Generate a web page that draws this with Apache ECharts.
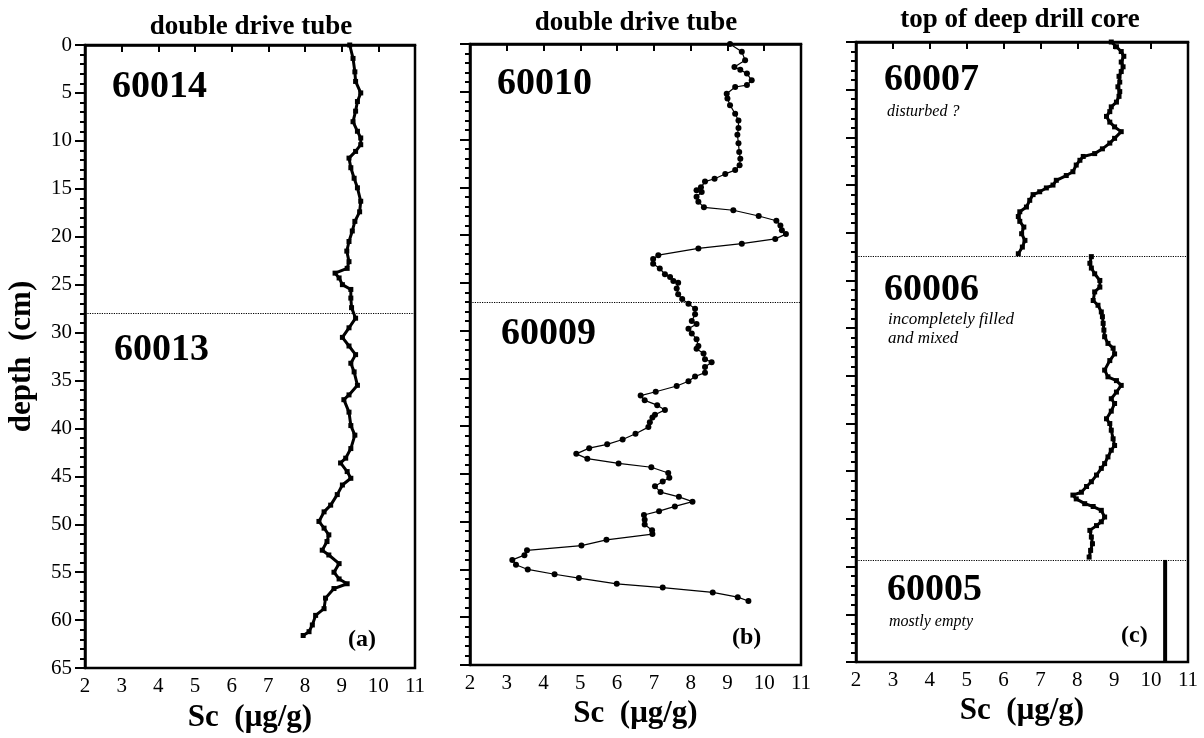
<!DOCTYPE html>
<html style="height: 100%">
<head>
<meta charset="utf-8">
<script src="https://cdn.jsdelivr.net/npm/echarts@6/dist/echarts.min.js"></script>
</head>
<body style="height: 100%; margin: 0; background: #fff">
<div id="container" style="width: 1204px; height: 738px"></div>
<script type="text/javascript">
// panel (a): 60014 / 60013 double drive tube
const depthA = [0, 1.4, 2.8, 3.8, 5, 5.9, 6.9, 8, 9, 9.7, 10.4, 11.1, 11.8, 12.8, 13.9, 14.9, 16.3, 17.4, 18.4, 19.4,
    20.5, 21.5, 22.6, 23.3, 23.8, 24.3, 25, 25.5, 26.4, 27.4, 28.5, 29.5, 30.5, 31.4, 32.3, 33.2, 34.1, 35.5, 36.5, 37,
    38.3, 39.7, 40.7, 42.1, 43.1, 43.6, 44.5, 45.2, 45.9, 46.9, 48, 48.7, 49.7, 50.4, 51.1, 51.8, 52.7, 53.2, 54.1, 55,
    55.7, 56.2, 56.7, 57.7, 58.8, 59.5, 60.5, 61.2, 61.6];
const scA = [9.22, 9.31, 9.36, 9.38, 9.52, 9.43, 9.38, 9.31, 9.43, 9.52, 9.52, 9.38, 9.2, 9.25, 9.34, 9.43, 9.52, 9.49, 9.36, 9.29,
    9.2, 9.14, 9.2, 9.15, 8.82, 8.93, 9.02, 9.25, 9.25, 9.27, 9.38, 9.2, 9.02, 9.2, 9.38, 9.25, 9.34, 9.43, 9.2, 9.06,
    9.2, 9.25, 9.36, 9.25, 9.11, 8.97, 9.15, 9.25, 9.02, 8.88, 8.7, 8.52, 8.38, 8.52, 8.65, 8.6, 8.47, 8.65, 8.93, 8.79,
    8.93, 9.15, 8.79, 8.56, 8.52, 8.29, 8.2, 8.11, 7.95];

// panel (b): 60010 / 60009 double drive tube
const depthB = [0, 0.8, 1.7, 2.4, 2.7, 3.1, 3.8, 4.3, 4.5, 5.2, 5.7, 6.4, 7.3, 8, 8.8, 9.5, 10.4, 11.3, 12, 12.7,
    13.2, 13.6, 14.1, 14.4, 15, 15.3, 15.5, 16, 16.5, 17.1, 17.4, 18, 18.5, 19, 19.5, 19.9, 20.4, 20.9, 21.4, 22.1,
    22.5, 23, 23.5, 24.1, 24.4, 24.8, 25, 25.6, 26.2, 26.7, 27.2, 27.7, 28.3, 29, 29.3, 29.8, 30.3, 30.9, 31.6, 31.9,
    32.4, 33, 33.3, 33.8, 34.4, 34.8, 35.3, 35.8, 36.4, 36.8, 37.3, 37.8, 38.3, 38.8, 39.1, 39.6, 40.1, 40.8, 41.4, 41.9,
    42.3, 42.9, 43.4, 43.9, 44.3, 44.9, 45.4, 45.8, 46.3, 46.9, 47.4, 47.9, 48.4, 48.9, 49.3, 49.8, 50.3, 50.9, 51.3, 51.9,
    52.5, 53, 53.5, 54, 54.5, 55, 55.5, 55.9, 56.5, 56.9, 57.4, 57.9, 58.3];
const scB = [9.07, 9.39, 9.48, 9.19, 9.35, 9.53, 9.66, 9.53, 9.21, 8.98, 9.0, 9.07, 9.21, 9.3, 9.3, 9.27, 9.3, 9.32, 9.35, 9.33,
    9.21, 8.94, 8.65, 8.39, 8.28, 8.16, 8.3, 8.16, 8.21, 8.36, 9.16, 9.85, 10.33, 10.44, 10.48, 10.59, 10.3, 9.39, 8.21, 7.12,
    6.98, 6.98, 7.16, 7.3, 7.44, 7.53, 7.66, 7.62, 7.66, 7.77, 7.94, 8.12, 8.12, 8.03, 8.16, 7.94, 8.03, 8.16, 8.21, 8.16,
    8.35, 8.39, 8.57, 8.39, 8.39, 8.12, 7.94, 7.62, 7.05, 6.64, 6.75, 7.09, 7.3, 7.03, 6.96, 6.89, 6.85, 6.5, 6.15, 5.73,
    5.24, 4.89, 5.19, 6.04, 6.93, 7.39, 7.42, 7.24, 7.03, 7.18, 7.68, 8.05, 7.57, 7.14, 6.73, 6.75, 6.75, 6.95, 6.96, 5.71,
    5.03, 3.55, 3.48, 3.15, 3.25, 3.57, 4.3, 4.96, 5.99, 7.24, 8.6, 9.28, 9.57];

// panel (c): top of deep drill core, 60007 then 60006, 60005 mostly empty
const depthC7 = [0, 0.5, 1, 1.5, 2.1, 2.6, 3.1, 3.6, 4.2, 4.7, 5.2, 5.7, 6.3, 6.8, 7.3, 7.8, 8.4, 8.9, 9.4, 10.1,
    10.6, 11.2, 11.7, 12, 12.4, 12.9, 13.6, 14, 14.5, 15, 15.3, 15.7, 16, 16.6, 17.3, 17.8, 18.3, 18.8, 19.4, 20.1,
    20.8, 21.5, 22.2];
const scC7 = [8.92, 9.06, 9.19, 9.26, 9.19, 9.24, 9.19, 9.13, 9.15, 9.1, 9.15, 9.13, 9.06, 8.92, 8.88, 8.79, 8.88, 9.01, 9.19, 9.01,
    8.88, 8.68, 8.47, 8.16, 8.07, 7.97, 7.88, 7.7, 7.43, 7.34, 7.16, 6.98, 6.8, 6.71, 6.62, 6.44, 6.4, 6.44, 6.55, 6.49,
    6.58, 6.51, 6.4];
const depthC6 = [22.5, 23.2, 23.7, 24.3, 25, 25.7, 26.2, 27.1, 27.6, 28.3, 28.8, 29.5, 30.2, 30.9, 31.6, 32.1, 32.7, 33.4, 34.4, 35.1,
    35.5, 36, 36.7, 37.4, 37.9, 38.7, 39.5, 40, 40.7, 41.6, 42.3, 42.8, 43.5, 44.2, 44.7, 45.4, 46.1, 46.6, 47.2, 47.5,
    47.9, 48.4, 48.7, 49.1, 49.8, 50.3, 50.7, 51.2, 51.9, 52.6, 53.3, 54];
const scC6 = [8.38, 8.34, 8.38, 8.47, 8.61, 8.61, 8.47, 8.43, 8.56, 8.65, 8.68, 8.7, 8.72, 8.74, 8.83, 8.97, 9.01, 8.88, 8.74, 8.83,
    9.06, 9.19, 9.06, 8.92, 9.01, 8.92, 8.79, 8.88, 8.92, 8.97, 9.01, 8.92, 8.83, 8.74, 8.65, 8.52, 8.38, 8.25, 8.11, 7.88,
    7.97, 8.2, 8.43, 8.65, 8.74, 8.65, 8.52, 8.34, 8.38, 8.41, 8.36, 8.32];
const depthC5 = [54.3, 65];
const scC5 = [10.38, 10.38];

// section boundaries (cm)
const breakA = 28;
const breakB = 27;
const breakC = [22.5, 54.3];

const xTicks = [2, 11];
const serif = 'Liberation Serif';

function pairs(sc, depth) {
    const out = [];
    for (let i = 0; i < sc.length; i++) {
        out.push([sc[i], depth[i]]);
    }
    return out;
}

function dotted(values) {
    return {
        silent: true,
        symbol: ['none', 'none'],
        label: {show: false},
        lineStyle: {type: 'dotted', color: '#000', width: 1.2},
        data: values.map(function (v) { return {yAxis: v}; })
    };
}

const grids = [
    {left: 85, top: 45, width: 330, height: 625},
    {left: 470, top: 44, width: 331, height: 621},
    {left: 856, top: 42, width: 332, height: 620}
];

const xAxes = [];
const yAxes = [];
for (let i = 0; i < 3; i++) {
    xAxes.push({
        gridIndex: i, type: 'value', min: xTicks[0], max: xTicks[1], interval: 1,
        name: 'Sc  (μg/g)', nameLocation: 'middle', nameGap: 33,
        nameTextStyle: {fontFamily: serif, fontWeight: 'bold', fontSize: 31, color: '#000'},
        axisLine: {lineStyle: {color: '#000', width: 2.5}},
        axisTick: {length: 7, lineStyle: {color: '#000', width: 2}},
        axisLabel: {fontFamily: serif, fontSize: 21, color: '#000', margin: 8},
        splitLine: {show: false}
    });
    yAxes.push({
        gridIndex: i, type: 'value', inverse: true, min: 0, max: 65, interval: 5,
        name: i === 0 ? 'depth  (cm)' : '', nameLocation: 'middle', nameGap: 48,
        nameTextStyle: {fontFamily: serif, fontWeight: 'bold', fontSize: 31, color: '#000'},
        axisLine: {lineStyle: {color: '#000', width: 2.5}},
        axisTick: {length: 10, lineStyle: {color: '#000', width: 2}},
        minorTick: {show: true, splitNumber: 5, length: 5, lineStyle: {color: '#000', width: 2}},
        axisLabel: {show: i === 0, fontFamily: serif, fontSize: 21, color: '#000', margin: 13},
        splitLine: {show: false}
    });
}

const boldLine = {color: '#000', width: 3};

const dom = document.getElementById('container');
const myChart = echarts.init(dom);

const option = {
    animation: false,
    backgroundColor: '#fff',
    title: [
        {text: 'double drive tube', left: 246, top: 9, textAlign: 'center',
            textStyle: {fontFamily: serif, fontWeight: 'bold', fontSize: 27, color: '#000'}},
        {text: 'double drive tube', left: 631, top: 5, textAlign: 'center',
            textStyle: {fontFamily: serif, fontWeight: 'bold', fontSize: 27, color: '#000'}},
        {text: 'top of deep drill core', left: 1015, top: 2, textAlign: 'center',
            textStyle: {fontFamily: serif, fontWeight: 'bold', fontSize: 27, color: '#000'}}
    ],
    grid: grids.map(function (g) {
        return Object.assign({show: true, borderColor: '#000', borderWidth: 2.5, backgroundColor: 'transparent'}, g);
    }),
    xAxis: xAxes,
    yAxis: yAxes,
    graphic: [
        {type: 'text', left: 112, top: 68, style: {text: '60014', font: 'bold 38px "Liberation Serif"', fill: '#000'}},
        {type: 'text', left: 114, top: 331, style: {text: '60013', font: 'bold 38px "Liberation Serif"', fill: '#000'}},
        {type: 'text', left: 348, top: 628, style: {text: '(a)', font: 'bold 24px "Liberation Serif"', fill: '#000'}},
        {type: 'text', left: 497, top: 65, style: {text: '60010', font: 'bold 38px "Liberation Serif"', fill: '#000'}},
        {type: 'text', left: 501, top: 315, style: {text: '60009', font: 'bold 38px "Liberation Serif"', fill: '#000'}},
        {type: 'text', left: 732, top: 626, style: {text: '(b)', font: 'bold 24px "Liberation Serif"', fill: '#000'}},
        {type: 'text', left: 884, top: 61, style: {text: '60007', font: 'bold 38px "Liberation Serif"', fill: '#000'}},
        {type: 'text', left: 887, top: 104, style: {text: 'disturbed ?', font: 'italic 16px "Liberation Serif"', fill: '#000'}},
        {type: 'text', left: 884, top: 271, style: {text: '60006', font: 'bold 38px "Liberation Serif"', fill: '#000'}},
        {type: 'text', left: 888, top: 311, style: {text: 'incompletely filled', font: 'italic 17px "Liberation Serif"', fill: '#000'}},
        {type: 'text', left: 888, top: 330, style: {text: 'and mixed', font: 'italic 17px "Liberation Serif"', fill: '#000'}},
        {type: 'text', left: 887, top: 571, style: {text: '60005', font: 'bold 38px "Liberation Serif"', fill: '#000'}},
        {type: 'text', left: 889, top: 614, style: {text: 'mostly empty', font: 'italic 16px "Liberation Serif"', fill: '#000'}},
        {type: 'text', left: 1121, top: 624, style: {text: '(c)', font: 'bold 24px "Liberation Serif"', fill: '#000'}}
    ],
    series: [
        {
            name: '60014/60013', type: 'line', xAxisIndex: 0, yAxisIndex: 0,
            data: pairs(scA, depthA),
            symbol: 'rect', symbolSize: 5, itemStyle: {color: '#000'}, lineStyle: boldLine,
            markLine: dotted([breakA])
        },
        {
            name: '60010/60009', type: 'line', xAxisIndex: 1, yAxisIndex: 1,
            data: pairs(scB, depthB),
            symbol: 'circle', symbolSize: 6, itemStyle: {color: '#000'}, lineStyle: {color: '#000', width: 1.2},
            markLine: dotted([breakB])
        },
        {
            name: '60007', type: 'line', xAxisIndex: 2, yAxisIndex: 2,
            data: pairs(scC7, depthC7),
            symbol: 'rect', symbolSize: 5, itemStyle: {color: '#000'}, lineStyle: boldLine,
            markLine: dotted(breakC)
        },
        {
            name: '60006', type: 'line', xAxisIndex: 2, yAxisIndex: 2,
            data: pairs(scC6, depthC6),
            symbol: 'rect', symbolSize: 5, itemStyle: {color: '#000'}, lineStyle: boldLine
        },
        {
            name: '60005', type: 'line', xAxisIndex: 2, yAxisIndex: 2,
            data: pairs(scC5, depthC5),
            symbol: 'none', lineStyle: {color: '#000', width: 4}
        }
    ]
};

if (option && typeof option === 'object') {
    myChart.setOption(option, true);
}
</script>
</body>
</html>
